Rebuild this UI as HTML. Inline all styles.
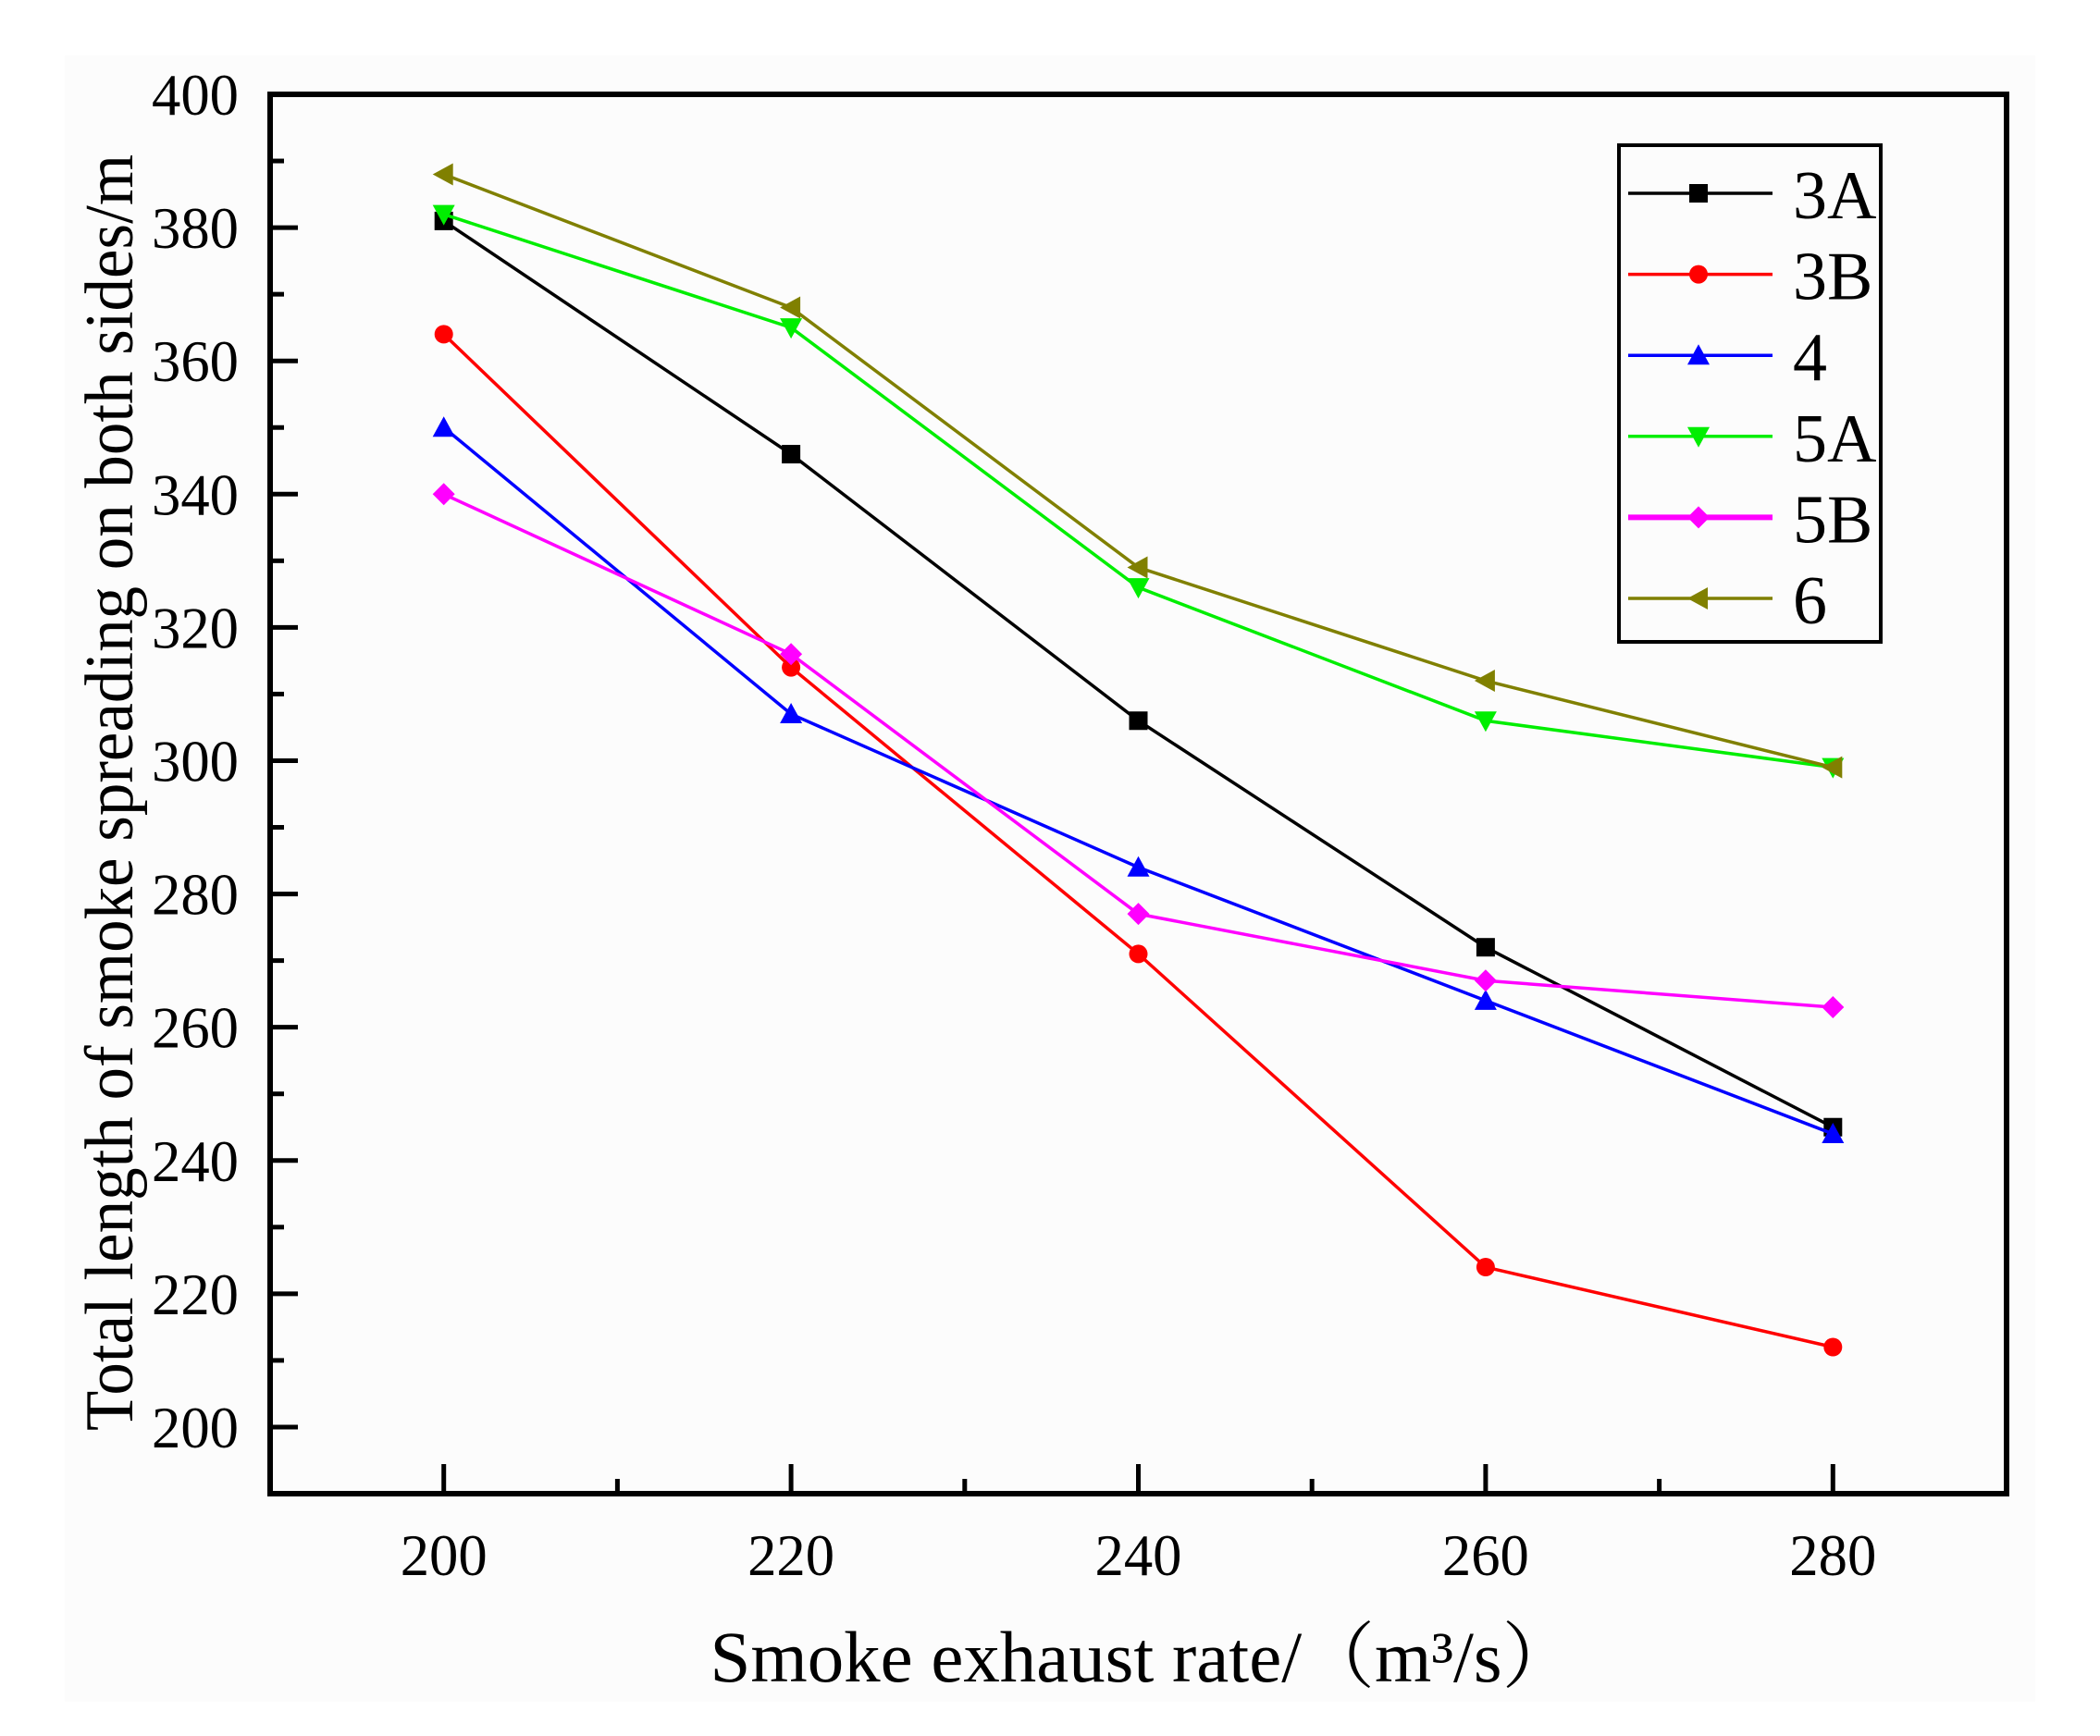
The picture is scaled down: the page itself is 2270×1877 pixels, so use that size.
<!DOCTYPE html>
<html><head><meta charset="utf-8"><style>
html,body{margin:0;padding:0;background:#fff;}
svg{display:block;}
text{font-family:"Liberation Serif","Noto Serif CJK SC",serif;fill:#000;}
</style></head><body>
<svg id="chart" width="2270" height="1877" viewBox="0 0 2270 1877" xmlns="http://www.w3.org/2000/svg">
<rect x="70" y="60" width="2130" height="1780" fill="#fcfcfc"/>
<g id="plot"></g>
</svg>
<script>
const categories = [200, 220, 240, 260, 280];
const s3A = [381, 346, 306, 272, 245];
const s3B = [364, 314, 271, 224, 212];
const s4  = [350, 307, 284, 264, 244];
const s5A = [382, 365, 326, 306, 299];
const s5B = [340, 316, 277, 267, 263];
const s6  = [388, 368, 329, 312, 299];
const seriesNames = ["3A", "3B", "4", "5A", "5B", "6"];
const yTickLabels = ["200","220","240","260","280","300","320","340","360","380","400"];
const xTickLabels = ["200","220","240","260","280"];

const NS = "http://www.w3.org/2000/svg";
const L = 292, R = 2169, T = 102, B = 1615;
const xMin = 190, xMax = 290, yMin = 190, yMax = 400;
function xs(v){ return L + (v - xMin) / (xMax - xMin) * (R - L); }
function ys(v){ return B - (v - yMin) / (yMax - yMin) * (B - T); }
const g = document.getElementById('plot');
function mk(tag, attrs, parent){
  const e = document.createElementNS(NS, tag);
  for (const k in attrs) e.setAttribute(k, attrs[k]);
  (parent || g).appendChild(e);
  return e;
}

for (let v = 200; v <= 400; v += 10) {
  const major = v % 20 === 0;
  const t = mk('line', {x1: L, x2: L + (major ? 30 : 15), y1: ys(v), y2: ys(v), stroke: '#000', 'stroke-width': 5});
  
  
}
yTickLabels.forEach(s => {
  const t = mk('text', {x: 258, y: ys(+s) + 22, 'text-anchor': 'end', 'font-size': 64, textLength: 94, lengthAdjust: 'spacingAndGlyphs'});
  t.textContent = s;
  
  
});
for (let v = 200; v <= 280; v += 10) {
  const major = v % 20 === 0;
  const t = mk('line', {x1: xs(v), x2: xs(v), y1: B, y2: B - (major ? 32 : 16), stroke: '#000', 'stroke-width': 5});
  
  
}
xTickLabels.forEach(s => {
  const t = mk('text', {x: xs(+s), y: 1703, 'text-anchor': 'middle', 'font-size': 64, textLength: 94, lengthAdjust: 'spacingAndGlyphs'});
  t.textContent = s;
  
  
});

const fr = mk('rect', {x: L, y: T, width: R - L, height: B - T, fill: 'none', stroke: '#000', 'stroke-width': 6});



const xt = mk('text', {x: 1235, y: 1818, 'text-anchor': 'middle', 'font-size': 78, textLength: 935, lengthAdjust: 'spacingAndGlyphs'});
xt.textContent = 'Smoke exhaust rate/（m³/s）';


const yt = mk('text', {x: 0, y: 0, 'text-anchor': 'middle', 'font-size': 74, textLength: 1380, lengthAdjust: 'spacingAndGlyphs', transform: 'translate(143,857) rotate(-90)'});
yt.textContent = 'Total length of smoke spreading on both sides/m';



const colors = ['#000000', '#ff0000', '#0000ff', '#00ee00', '#ff00ff', '#808000'];
const shapes = ['square', 'circle', 'up', 'down', 'diamond', 'left'];
const data = [s3A, s3B, s4, s5A, s5B, s6];

function marker(shape, x, y, c, parent){
  const r = 10;
  let e;
  if (shape === 'square') e = mk('rect', {x: x - r, y: y - r, width: 2*r, height: 2*r, fill: c}, parent);
  else if (shape === 'circle') e = mk('circle', {cx: x, cy: y, r: r, fill: c}, parent);
  else {
    let p;
    if (shape === 'up') p = [[x, y - r - 2], [x - r - 2, y + r], [x + r + 2, y + r]];
    else if (shape === 'down') p = [[x, y + r + 2], [x - r - 2, y - r], [x + r + 2, y - r]];
    else if (shape === 'diamond') p = [[x, y - r - 2], [x + r + 2, y], [x, y + r + 2], [x - r - 2, y]];
    else p = [[x - r - 2, y], [x + r, y - r - 2], [x + r, y + r + 2]];
    e = mk('polygon', {points: p.map(q => q.join(',')).join(' '), fill: c}, parent);
  }
  return e;
}

data.forEach((vals, i) => {
  const sg = mk('g', {});
  
  
  const pl = mk('polyline', {points: vals.map((v, j) => xs(categories[j]) + ',' + ys(v)).join(' '), fill: 'none', stroke: colors[i], 'stroke-width': 3.5}, sg);
  
  
  vals.forEach((v, j) => {
    const m = marker(shapes[i], xs(categories[j]), ys(v), colors[i], sg);
    
    
  });
});

const lg = mk('g', {});


const lb = mk('rect', {x: 1750, y: 157, width: 283, height: 537, fill: '#fcfcfc', stroke: '#000', 'stroke-width': 4}, lg);


seriesNames.forEach((n, i) => {
  const y = 209 + i * 87.6;
  const eg = mk('g', {}, lg);
  
  
  mk('line', {x1: 1760, x2: 1916, y1: y, y2: y, stroke: colors[i], 'stroke-width': (i === 4 ? 6 : 3.5)}, eg);
  marker(shapes[i], 1836, y, colors[i], eg);
  const t = mk('text', {x: 1938, y: y + 27, 'font-size': 74}, eg);
  t.textContent = n;
});
</script>
</body></html>
